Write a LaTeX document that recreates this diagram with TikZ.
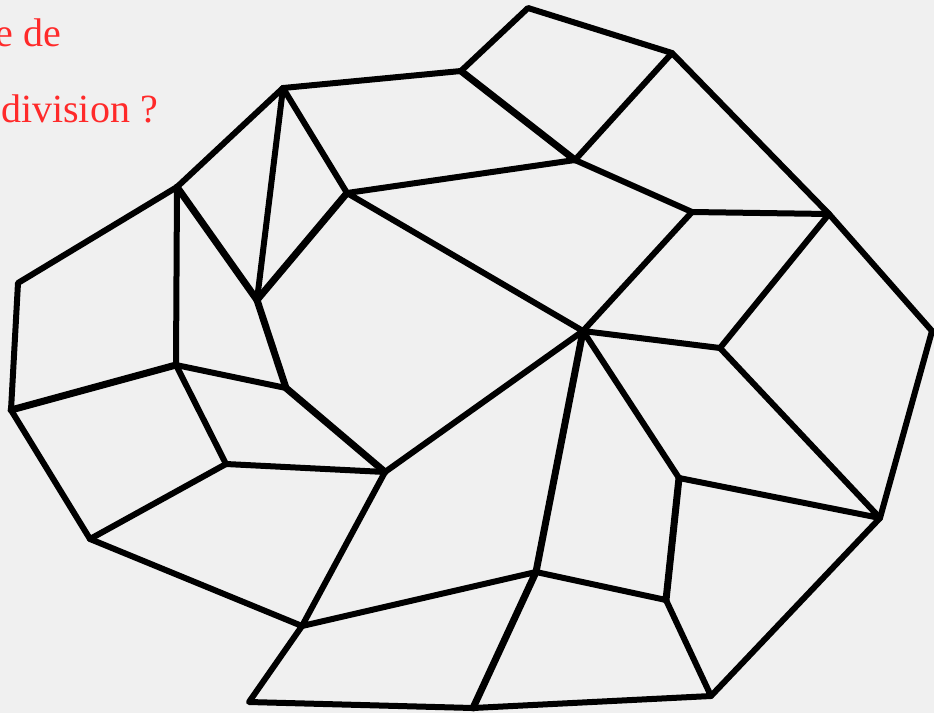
\documentclass[tikz,border=0pt]{standalone}
\usepackage{fontspec}
\setmainfont{Liberation Serif}
\definecolor{bgc}{HTML}{F0F0F0}
\definecolor{txt}{HTML}{FF2A2A}
\tikzset{edge/.style={draw=black,line width=6pt,line join=round,line cap=round},
thick edge/.style={edge,line width=7pt},
lbl/.style={text=txt,font=\fontsize{40}{40}\selectfont,inner sep=0pt,anchor=base east}}
\begin{document}
\begin{tikzpicture}[x=1pt,y=-1pt]
\useasboundingbox[fill=bgc] (0,0) rectangle (934,713);
\clip (0,0) rectangle (934,713);
\foreach \n/\x/\y in {a/528/8,b/672/53,c/461/71,d/283/88,e/575/160,f/347/193,g/177/187,h/692/212,i/829/214,j/257/300,k/18/283,l/583/331,m/720/348,n/932/331,o/176/365,p/286/388,q/11/410,r/226/464,s/385/472,t/679/478,u/880/518,v/90/539,w/536/572,x/666/600,y/302/626,z/711/696,A/249/702,B/473/708}
  \coordinate (\n) at (\x,\y);
\node[lbl] (t1) at (61,46) {e de};
\node[lbl] (t2) at (158,122) {division ?};
\draw[edge] (c)--(a)--(b)--(i)--(n)--(u)--(z)--(B)--(A)--(y)--(v)--(q)--(k)--(g)--(d)--(c);
\draw[thick edge] (c)--(e);
\draw[edge] (e)--(b);
\draw[edge] (e)--(h)--(i);
\draw[edge] (e)--(f)--(d);
\draw[edge] (d)--(j);
\draw[thick edge] (j)--(g);
\draw[edge] (g)--(o);
\draw[thick edge] (f)--(j)--(p)--(s);
\draw[edge] (f)--(l)--(h);
\draw[edge] (i)--(m)--(l);
\draw[edge] (m)--(u)--(t)--(l);
\draw[edge] (l)--(s)--(y)--(w);
\draw[thick edge] (w)--(l);
\draw[edge] (w)--(x);
\draw[thick edge] (t)--(x);
\draw[thick edge] (w)--(B);
\draw[edge] (x)--(z);
\draw[thick edge] (q)--(o);
\draw[edge] (o)--(p);
\draw[edge] (o)--(r)--(s);
\draw[edge] (r)--(v);
\end{tikzpicture}
\end{document}
